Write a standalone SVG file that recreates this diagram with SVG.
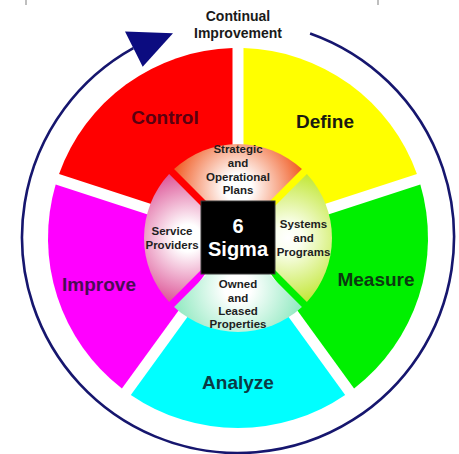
<svg xmlns="http://www.w3.org/2000/svg" width="459" height="454" viewBox="0 0 459 454">
<style>
.lbl{font-family:"Liberation Sans",Arial,sans-serif;font-weight:bold;font-size:19px;text-anchor:middle}
.sm{font-family:"Liberation Sans",Arial,sans-serif;font-weight:bold;font-size:11.5px;text-anchor:middle;fill:#1e1e1e}
.top{font-family:"Liberation Sans",Arial,sans-serif;font-weight:bold;font-size:14px;text-anchor:middle;fill:#1a1a1a}
.sig{font-family:"Liberation Sans",Arial,sans-serif;font-weight:bold;font-size:20px;text-anchor:middle;fill:#ffffff}
.ring{fill:none;stroke:#16166e;stroke-width:2.6}
</style>
<defs>
<radialGradient id="gS" gradientUnits="userSpaceOnUse" cx="238" cy="188" r="68"><stop offset="0" stop-color="#fff"/><stop offset="0.2" stop-color="#fff"/><stop offset="1" stop-color="#f0561c"/></radialGradient>
<radialGradient id="gY" gradientUnits="userSpaceOnUse" cx="288" cy="238" r="68"><stop offset="0" stop-color="#fff"/><stop offset="0.2" stop-color="#fbfff0"/><stop offset="1" stop-color="#c0e630"/></radialGradient>
<radialGradient id="gO" gradientUnits="userSpaceOnUse" cx="238" cy="288" r="68"><stop offset="0" stop-color="#fff"/><stop offset="0.2" stop-color="#fff"/><stop offset="1" stop-color="#8ce8be"/></radialGradient>
<radialGradient id="gP" gradientUnits="userSpaceOnUse" cx="188" cy="238" r="68"><stop offset="0" stop-color="#fff"/><stop offset="0.2" stop-color="#fff"/><stop offset="1" stop-color="#dc5094"/></radialGradient>
</defs>
<rect width="459" height="454" fill="#ffffff"/>
<line x1="26" y1="0" x2="26" y2="5" stroke="#aaa" stroke-width="1.5"/>
<line x1="378" y1="0" x2="378" y2="5" stroke="#aaa" stroke-width="1.5"/>

<g id="connectors">
<path class="ring" d="M 310.1 33.4 A 216 216 0 1 1 133.3 48.1"/>
<polygon points="125,31.5 173,33.3 142.7,66.7" fill="#0c0c80"/>
</g>

<g id="title">
<text class="top" x="238" y="20.5">Continual</text>
<text class="top" x="238" y="37.5">Improvement</text>
</g>

<g id="define">
<path d="M 243.5 230.43 L 243.5 48.08 A 190 190 0 0 1 416.93 174.08 Z" fill="#ffff00"/>
<text class="lbl" x="325" y="128" fill="#1a1a10">Define</text>
</g>
<g id="measure">
<path d="M 246.9 240.89 L 420.33 184.54 A 190 190 0 0 1 354.08 388.42 Z" fill="#00f000"/>
<text class="lbl" x="376" y="286" fill="#0c3a10">Measure</text>
</g>
<g id="analyze">
<path d="M 238 247.36 L 345.18 394.88 A 190 190 0 0 1 130.82 394.88 Z" fill="#00ffff"/>
<text class="lbl" x="238" y="389" fill="#0c3a44">Analyze</text>
</g>
<g id="improve">
<path d="M 229.1 240.89 L 121.92 388.42 A 190 190 0 0 1 55.67 184.54 Z" fill="#ff00ff"/>
<text class="lbl" x="99" y="291" fill="#4a0c54">Improve</text>
</g>
<g id="control">
<path d="M 232.5 230.43 L 59.07 174.08 A 190 190 0 0 1 232.5 48.08 Z" fill="#ff0000"/>
<text class="lbl" x="165" y="124" fill="#5a0010">Control</text>
</g>

<g id="strategic">
<path d="M 238 233.05 L 174.05 169.11 A 94 94 0 0 1 301.95 169.11 Z" fill="url(#gS)"/>
<text class="sm" x="238" y="153.3">Strategic</text>
<text class="sm" x="238" y="166.8">and</text>
<text class="sm" x="238" y="180.6">Operational</text>
<text class="sm" x="238" y="194">Plans</text>
</g>
<g id="systems">
<path d="M 242.95 238 L 306.89 174.05 A 94 94 0 0 1 306.89 301.95 Z" fill="url(#gY)"/>
<text class="sm" x="303.5" y="228.3">Systems</text>
<text class="sm" x="303.5" y="242.2">and</text>
<text class="sm" x="303.5" y="255.7">Programs</text>
</g>
<g id="owned">
<path d="M 238 242.95 L 301.95 306.89 A 94 94 0 0 1 174.05 306.89 Z" fill="url(#gO)"/>
<text class="sm" x="238" y="288">Owned</text>
<text class="sm" x="238" y="301.6">and</text>
<text class="sm" x="238" y="315">Leased</text>
<text class="sm" x="238" y="328.4">Properties</text>
</g>
<g id="service">
<path d="M 233.05 238 L 169.11 301.95 A 94 94 0 0 1 169.11 174.05 Z" fill="url(#gP)"/>
<text class="sm" x="172" y="235">Service</text>
<text class="sm" x="172" y="249">Providers</text>
</g>

<g id="sigma">
<rect x="201" y="201" width="74" height="73" fill="#000000" stroke="#3a3a3a" stroke-width="1"/>
<text class="sig" x="238" y="233">6</text>
<text class="sig" x="238" y="255.5">Sigma</text>
</g>
</svg>
